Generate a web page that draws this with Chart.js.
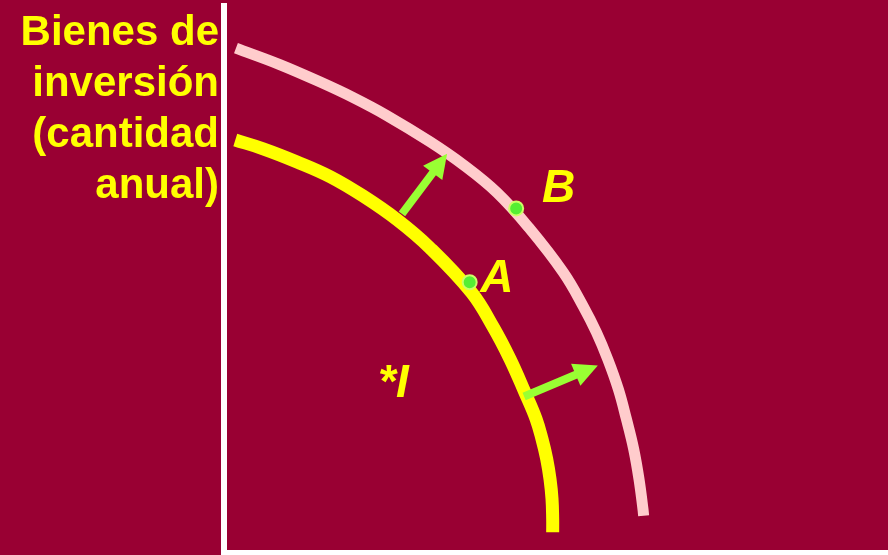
<!DOCTYPE html>
<html>
<head>
<meta charset="utf-8">
<script src="https://cdn.jsdelivr.net/npm/chart.js@4/dist/chart.umd.min.js"></script>
<style>
  html, body { margin: 0; padding: 0; background: #990033; }
  canvas { display: block; }
</style>
</head>
<body>
<canvas id="out" width="888" height="555"></canvas>
<script>
// curve B (outer frontier)
const outerX = [0.18, 0.84, 1.45, 1.94, 2.45, 3.10, 3.60, 4.11, 4.59, 5.11, 5.41, 5.61, 5.78, 5.94, 6.06, 6.17, 6.25, 6.31, 6.32];
const outerY = [9.23, 8.93, 8.61, 8.33, 8.00, 7.52, 7.10, 6.59, 5.95, 5.13, 4.51, 4.03, 3.54, 2.99, 2.45, 1.90, 1.35, 0.80, 0.68];
// curve A (inner frontier)
const innerX = [0.17, 0.59, 1.10, 1.60, 2.09, 2.61, 3.10, 3.73, 4.05, 4.31, 4.53, 4.70, 4.79, 4.86, 4.91, 4.94, 4.95, 4.95];
const innerY = [7.55, 7.39, 7.15, 6.88, 6.53, 6.09, 5.58, 4.76, 4.14, 3.54, 2.94, 2.45, 2.08, 1.72, 1.35, 0.99, 0.62, 0.38];

// points A and B
const pointX = [3.70, 4.40];
const pointY = [4.95, 6.30];

// shift arrows
const arrowFromX = [2.68, 4.52];
const arrowFromY = [6.20, 2.86];
const arrowToX = [3.36, 5.63];
const arrowToY = [7.30, 3.43];

const labelText = ['A', 'B', '*I'];
const labelX = [3.86, 4.79, 2.32];
const labelY = [4.78, 6.42, 2.85];

const axisTitle = ['Bienes de', 'inversión', '(cantidad', 'anual)'];

const toXY = (xs, ys) => xs.map((x, i) => ({x: x, y: ys[i]}));

const arrowsPlugin = {
  id: 'arrows',
  afterDatasetsDraw(chart) {
    const {ctx, scales: {x, y}} = chart;
    ctx.save();
    ctx.strokeStyle = '#99ff33';
    ctx.fillStyle = '#99ff33';
    ctx.lineWidth = 8;
    for (let i = 0; i < arrowFromX.length; i++) {
      const x0 = x.getPixelForValue(arrowFromX[i]);
      const y0 = y.getPixelForValue(arrowFromY[i]);
      const x1 = x.getPixelForValue(arrowToX[i]);
      const y1 = y.getPixelForValue(arrowToY[i]);
      const a = Math.atan2(y1 - y0, x1 - x0);
      const head = 24;
      const bx = x1 - head * Math.cos(a);
      const by = y1 - head * Math.sin(a);
      ctx.beginPath();
      ctx.moveTo(x0, y0);
      ctx.lineTo(bx + 2 * Math.cos(a), by + 2 * Math.sin(a));
      ctx.stroke();
      ctx.beginPath();
      ctx.moveTo(x1, y1);
      ctx.lineTo(bx + 12 * Math.sin(a), by - 12 * Math.cos(a));
      ctx.lineTo(bx - 12 * Math.sin(a), by + 12 * Math.cos(a));
      ctx.closePath();
      ctx.fill();
    }
    ctx.restore();
  }
};

const textPlugin = {
  id: 'texts',
  afterDraw(chart) {
    const {ctx, chartArea, scales: {x, y}} = chart;
    ctx.save();
    ctx.fillStyle = '#ffff00';
    ctx.textBaseline = 'alphabetic';
    ctx.font = 'italic bold 46px "Liberation Sans", Arial, sans-serif';
    ctx.textAlign = 'left';
    labelText.forEach((t, i) => {
      ctx.fillText(t, x.getPixelForValue(labelX[i]), y.getPixelForValue(labelY[i]));
    });
    ctx.font = 'bold 42px "Liberation Sans", Arial, sans-serif';
    ctx.textAlign = 'right';
    axisTitle.forEach((t, i) => {
      ctx.fillText(t, chartArea.left - 5, chartArea.top + 39 + i * 51);
    });
    ctx.restore();
  }
};

new Chart(document.getElementById('out'), {
  type: 'scatter',
  data: {
    datasets: [
      {
        data: toXY(pointX, pointY),
        showLine: false,
        pointRadius: 7,
        pointBorderWidth: 2,
        pointBackgroundColor: '#55ee33',
        pointBorderColor: '#ccff66',
        order: 0
      },
      {
        data: toXY(outerX, outerY),
        showLine: true,
        borderColor: '#ffcccc',
        borderWidth: 11,
        tension: 0.4,
        pointRadius: 0,
        order: 1
      },
      {
        data: toXY(innerX, innerY),
        showLine: true,
        borderColor: '#ffff00',
        borderWidth: 13,
        tension: 0.4,
        pointRadius: 0,
        order: 2
      }
    ]
  },
  options: {
    responsive: false,
    animation: false,
    layout: { autoPadding: false, padding: { left: 224, top: 6, right: 0, bottom: 2 } },
    plugins: { legend: { display: false }, tooltip: { enabled: false } },
    scales: {
      x: {
        min: 0, max: 10,
        ticks: { display: false },
        grid: { display: false, drawTicks: false },
        border: { color: '#ffffff', width: 6 }
      },
      y: {
        min: 0, max: 10,
        ticks: { display: false },
        grid: { display: false, drawTicks: false },
        border: { color: '#ffffff', width: 6 }
      }
    }
  },
  plugins: [arrowsPlugin, textPlugin]
});
</script>
</body>
</html>
